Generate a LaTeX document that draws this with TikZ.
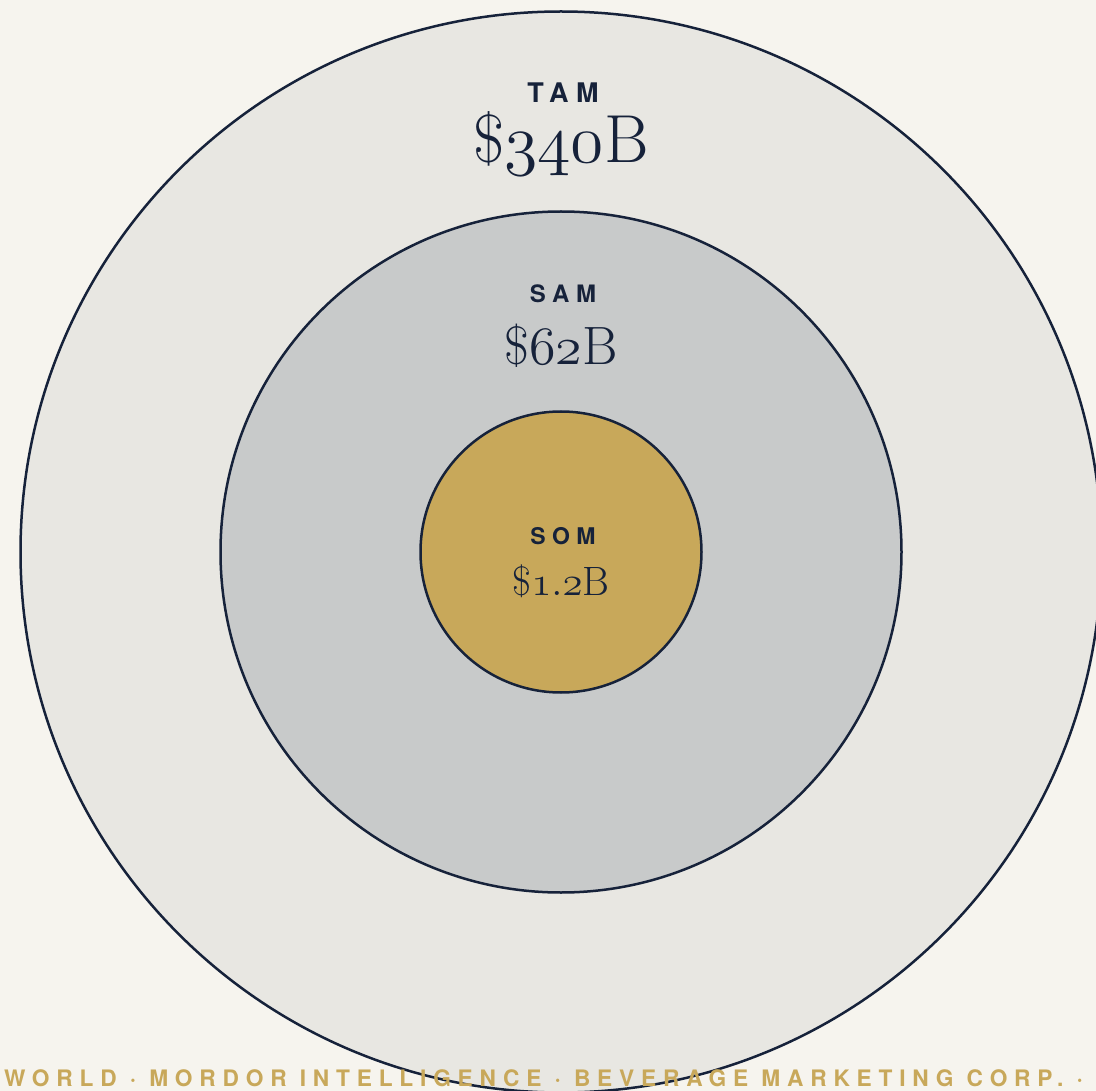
\documentclass[tikz,border=0pt]{standalone}
\usepackage{fix-cm}
\usepackage{fontspec}
\usetikzlibrary{positioning}
\newfontfamily\tagfont[LetterSpace=28]{TeX Gyre Heros}
\newfontfamily\tickerfont[LetterSpace=30]{TeX Gyre Heros}
\definecolor{PaperBg}{RGB}{246,244,238}
\definecolor{TamFill}{RGB}{232,231,226}
\definecolor{SamFill}{RGB}{200,202,202}
\definecolor{SomGold}{RGB}{200,168,90}
\definecolor{InkNavy}{RGB}{22,34,58}
\newcommand{\figs}[1]{\(\mathnormal{#1}\)}

\begin{document}
\begin{tikzpicture}[x=1pt, y=-1pt,
  ring/.style={draw=InkNavy, line width=2.5pt, circle, inner sep=0pt},
  tag/.style={anchor=base, text=InkNavy, font=\tagfont\bfseries\fontsize{#1}{#1}\selectfont},
  amount/.style={anchor=base, text=InkNavy, font=\fontsize{#1}{#1}\selectfont}]
  \fill[PaperBg] (0,0) rectangle (1096,1091);
  \useasboundingbox (0,0) rectangle (1096,1091);
  \clip (0,0) rectangle (1096,1091);
  % market rings
  \node[ring, fill=TamFill, minimum size=1081pt] (tam) at (561,552) {};
  \node[ring, fill=SamFill, minimum size=681pt] (sam) at (561,552) {};
  \node[ring, fill=SomGold, minimum size=281pt] (som) at (561,552) {};
  % labels
  \node[tag=27] (tamtag) at (563,103) {TAM};
  \node[amount=68] (tamval) at (561,163) {\$\figs{340}B};
  \node[tag=24] (samtag) at (563,303) {SAM};
  \node[amount=54] (samval) at (561,365) {\$\figs{62}B};
  \node[tag=23] (somtag) at (563,544) {SOM};
  \node[amount=41] (somval) at (561,595) {\$\figs{1.2}B};
  % source ticker
  \node[anchor=base west, inner sep=0pt, text=SomGold,
    font=\tickerfont\bfseries\fontsize{22.7}{22.7}\selectfont] (ticker) at (4,1086)
    {WORLD · MORDOR INTELLIGENCE · BEVERAGE MARKETING CORP. ·};
\end{tikzpicture}
\end{document}
